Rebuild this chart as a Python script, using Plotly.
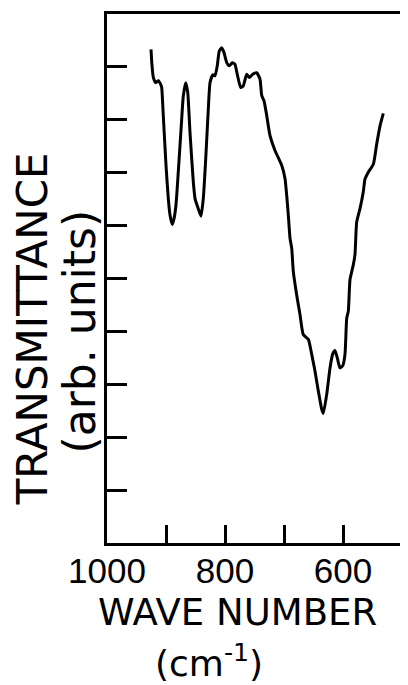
import plotly.graph_objects as go

# IR transmittance spectrum
wavenumber = [925.4, 924.1, 921.5, 917.5, 913.1, 909.0, 907.3, 904.6, 900.0, 896.1,
              893.2, 889.3, 886.4, 883.1, 879.2, 873.4, 870.7, 866.6, 863.2, 859.3,
              853.7, 850.8, 845.3, 840.7, 836.8, 832.7, 828.3, 825.4, 820.8, 817.0,
              813.1, 809.7, 805.6, 801.7, 797.1, 792.7, 787.6, 783.1, 779.2, 773.4,
              769.0, 763.2, 758.8, 753.1, 746.3, 740.7, 737.8, 733.9, 729.3, 723.7,
              715.3, 703.9, 698.3, 695.4, 692.7, 689.8, 686.9, 684.2, 678.5, 672.9,
              667.3, 658.8, 653.1, 647.5, 641.9, 636.1, 633.4, 627.6, 622.0, 617.5,
              613.6, 609.7, 605.1, 600.5, 596.6, 593.7, 591.0, 588.1, 582.5, 579.7,
              576.8, 571.2, 565.6, 562.7, 557.1, 548.6, 542.9, 537.3, 531.7]
transmittance = [9.33, 9.08, 8.80, 8.70, 8.74, 8.67, 8.61, 8.08, 7.14, 6.51,
                 6.20, 6.02, 6.13, 6.39, 7.01, 8.01, 8.45, 8.70, 8.52, 7.76,
                 6.82, 6.51, 6.32, 6.18, 6.51, 7.26, 8.20, 8.70, 8.85, 8.83,
                 9.02, 9.30, 9.36, 9.27, 9.08, 9.02, 9.08, 9.05, 8.86, 8.61,
                 8.64, 8.86, 8.80, 8.86, 8.89, 8.77, 8.46, 8.36, 8.08, 7.70,
                 7.42, 7.14, 6.89, 6.57, 6.20, 5.76, 5.57, 5.13, 4.69, 4.32,
                 3.94, 3.85, 3.57, 3.25, 2.88, 2.53, 2.45, 2.81, 3.31, 3.57,
                 3.64, 3.50, 3.31, 3.35, 3.57, 4.25, 4.38, 4.98, 5.26, 5.45,
                 6.07, 6.32, 6.64, 6.88, 7.01, 7.16, 7.54, 7.88, 8.12]

x_label_vals = [1000, 800, 600]
x_label_text = ["1000", "800", "600"]
x_minor_vals = [900, 700]
y_tickvals = [1, 2, 3, 4, 5, 6, 7, 8, 9]

fig = go.Figure()
fig.add_trace(go.Scatter(x=wavenumber, y=transmittance, mode="lines",
                         line=dict(color="black", width=3, shape="spline", smoothing=0.5),
                         showlegend=False, hoverinfo="skip"))

fig.update_layout(
    width=400, height=677,
    margin=dict(l=99, r=6, t=3, b=142),
    paper_bgcolor="white", plot_bgcolor="white",
    font=dict(family="DejaVu Sans", color="black"),
    xaxis=dict(range=[1000, 500], tickvals=x_label_vals, ticktext=x_label_text,
               ticks="inside", ticklen=18, tickwidth=3, tickcolor="black",
               ticklabelstandoff=-5,
               minor=dict(tickvals=x_minor_vals, ticks="inside", ticklen=18,
                          tickwidth=3, tickcolor="black", showgrid=False),
               showline=True, linewidth=3, linecolor="black", mirror=True,
               showgrid=False, zeroline=False,
               tickfont=dict(family="Liberation Sans", size=35, color="black")),
    yaxis=dict(range=[0, 10], tickvals=y_tickvals, showticklabels=False,
               ticks="inside", ticklen=20, tickwidth=3, tickcolor="black",
               showline=True, linewidth=3, linecolor="black", mirror=True,
               showgrid=False, zeroline=False),
    annotations=[
        dict(text="TRANSMITTANCE", xref="paper", yref="paper", x=-0.254, y=0.404,
             textangle=-90, showarrow=False, xanchor="center", yanchor="middle",
             font=dict(family="DejaVu Sans", size=42, color="black")),
        dict(text="(arb. units)", xref="paper", yref="paper", x=-0.095, y=0.400,
             textangle=-90, showarrow=False, xanchor="center", yanchor="middle",
             font=dict(family="DejaVu Sans", size=44, color="black")),
        dict(text="WAVE NUMBER", xref="paper", yref="paper", x=0.444, y=-0.132,
             showarrow=False, xanchor="center", yanchor="middle",
             font=dict(family="DejaVu Sans", size=37, color="black")),
        dict(text="(cm<sup>-1</sup>)", xref="paper", yref="paper", x=0.346, y=-0.224,
             showarrow=False, xanchor="center", yanchor="middle",
             font=dict(family="DejaVu Sans", size=36, color="black")),
    ],
)

fig.write_html("out.html")
